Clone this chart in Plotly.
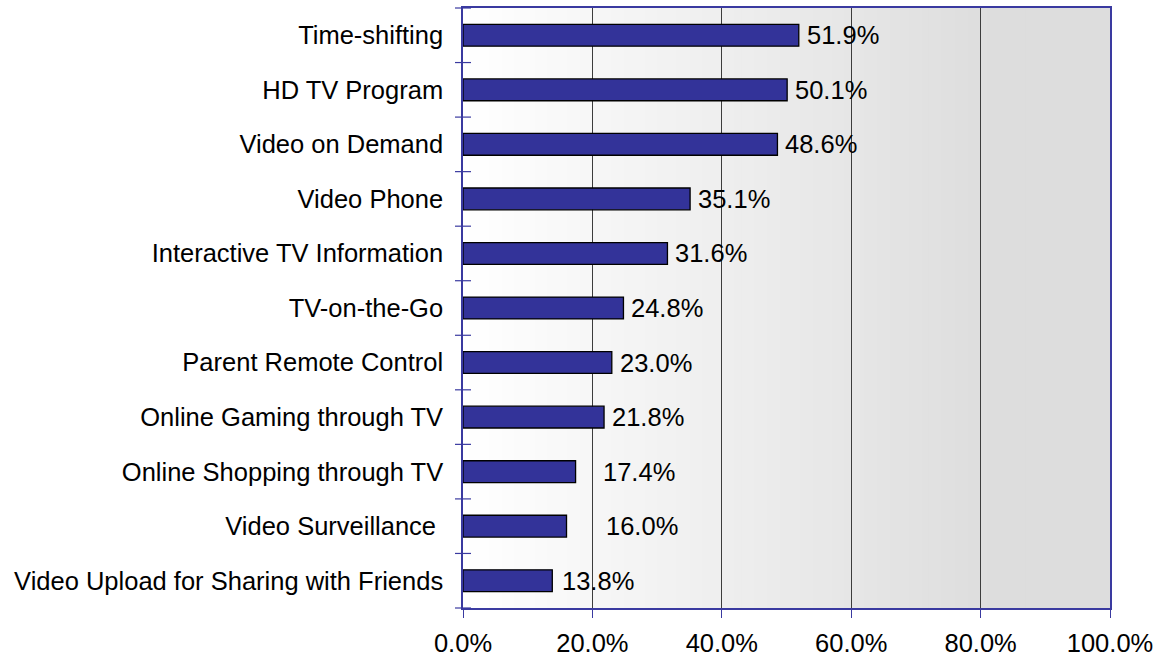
import plotly.graph_objects as go

# Services and share of respondents interested in each (%)
services = [
    "Time-shifting",
    "HD TV Program",
    "Video on Demand",
    "Video Phone",
    "Interactive TV Information",
    "TV-on-the-Go",
    "Parent Remote Control",
    "Online Gaming through TV",
    "Online Shopping through TV",
    "Video Surveillance ",
    "Video Upload for Sharing with Friends",
]
shares = [51.9, 50.1, 48.6, 35.1, 31.6, 24.8, 23.0, 21.8, 17.4, 16.0, 13.8]
x_ticks = [0, 20, 40, 60, 80, 100]
x_tick_text = ["0.0%", "20.0%", "40.0%", "60.0%", "80.0%", "100.0%"]

# Extra horizontal nudge (px) for a few value labels
label_nudge = {"Online Shopping through TV": 19, "Video Surveillance ": 31, "Video Upload for Sharing with Friends": 2}

FONT = "Liberation Sans, Arial, sans-serif"
FONT_SIZE = 25.5
AXIS_BLUE = "#3a3aa0"
BAR_BLUE = "#333399"

fig = go.Figure()

fig.add_trace(go.Bar(
    x=shares,
    y=services,
    orientation="h",
    marker=dict(color=BAR_BLUE, line=dict(color="black", width=1.3)),
    width=0.4,
    hoverinfo="x+y",
))

# Horizontal grey gradient behind the plot area
steps = 100
shapes = []
for i in range(steps):
    x0 = 100 * i / steps
    x1 = min(100 * (i + 1) / steps + 0.6, 100)
    t = min((x0 + 0.5) / 82.0, 1.0)
    g = round(255 - (255 - 221) * t)
    shapes.append(dict(
        type="rect", xref="x", yref="paper", x0=x0, x1=x1, y0=0, y1=1,
        fillcolor=f"rgb({g},{g},{g})", line=dict(width=0), layer="below",
    ))

# Category-boundary tick marks that cross the value axis line
n = len(services)
for k in range(n + 1):
    yb = 1 - k / n
    shapes.append(dict(
        type="line", xref="paper", yref="paper", xsizemode="pixel", xanchor=0,
        x0=-8, x1=8, y0=yb, y1=yb,
        line=dict(color=AXIS_BLUE, width=1.2), layer="above",
    ))

annotations = []
for name, v in zip(services, shares):
    annotations.append(dict(
        x=v, y=name, xref="x", yref="y", text=f"{v:.1f}%",
        showarrow=False, xanchor="left", yanchor="middle",
        xshift=6 + label_nudge.get(name, 0),
        font=dict(family=FONT, size=FONT_SIZE, color="black"),
    ))

fig.update_layout(
    width=1157,
    height=658,
    margin=dict(l=463, r=47, t=8, b=50),
    paper_bgcolor="white",
    plot_bgcolor="rgba(0,0,0,0)",
    showlegend=False,
    bargap=0.6,
    shapes=shapes,
    annotations=annotations,
    xaxis=dict(
        range=[0, 100],
        tickvals=x_ticks,
        ticktext=x_tick_text,
        ticks="outside",
        ticklen=8,
        tickcolor=AXIS_BLUE,
        tickwidth=1,
        showline=True,
        linecolor=AXIS_BLUE,
        linewidth=1.5,
        mirror=True,
        showgrid=True,
        gridcolor="#3c3c3c",
        gridwidth=1,
        zeroline=False,
        automargin=False,
        tickfont=dict(family=FONT, size=FONT_SIZE, color="black"),
        ticklabelstandoff=4,
    ),
    yaxis=dict(
        type="category",
        categoryorder="array",
        categoryarray=services,
        range=[len(services) - 0.5, -0.5],
        ticks="",
        showline=True,
        linecolor=AXIS_BLUE,
        linewidth=1.5,
        mirror=True,
        showgrid=False,
        automargin=False,
        tickfont=dict(family=FONT, size=FONT_SIZE, color="black"),
        ticklabelstandoff=13,
    ),
)

fig.write_html("out.html")
